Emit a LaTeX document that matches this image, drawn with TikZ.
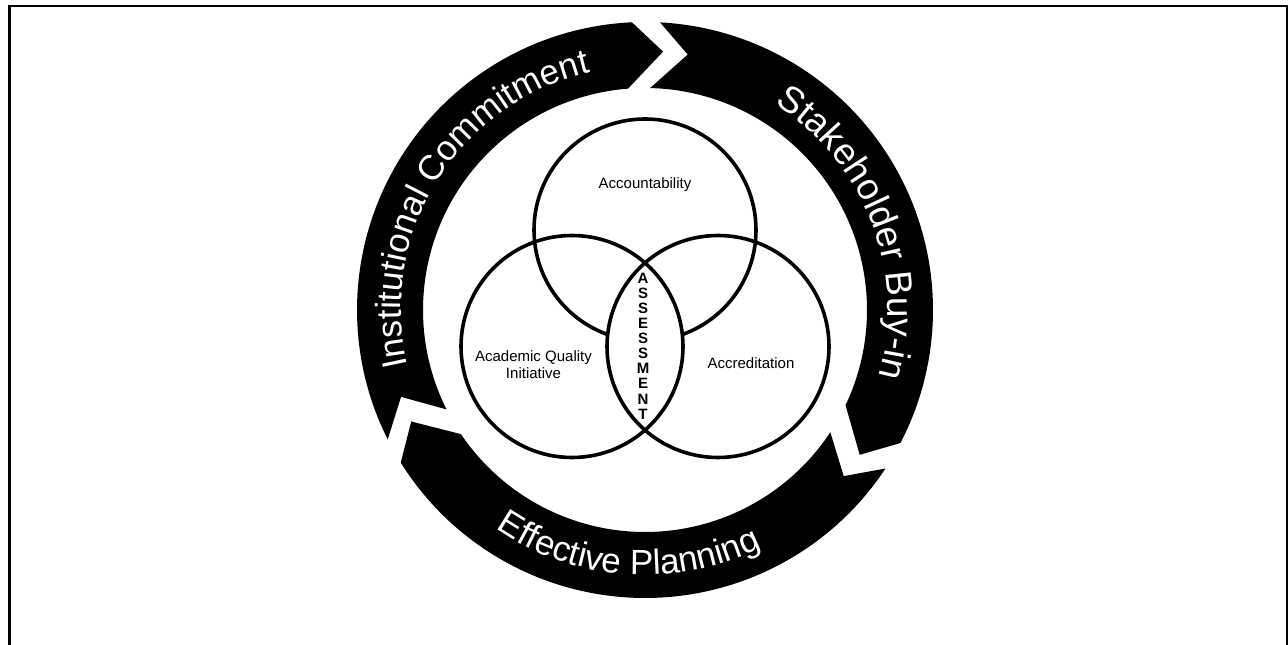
\documentclass[tikz,border=0pt]{standalone}
\usepackage{fontspec}
\setmainfont{Liberation Sans}
\usetikzlibrary{decorations.text}
\newcommand\ringfont{\fontsize{35}{40}\selectfont}
\newcommand\ringfontb{\fontsize{37}{40}\selectfont}
\begin{document}
\begin{tikzpicture}[x=1pt,y=1pt,
  vennline/.style={line width=3.6pt},
  vennlabel/.style={font=\fontsize{15}{17}\selectfont, align=center, inner sep=0pt},
  ringtext/.style={decorate, decoration={text along path, text={|\ringfont|#1}, text align=center, text color=white}},
  ringtextb/.style={decorate, decoration={text along path, text={|\ringfontb|#1}, text align=center, text color=white}}]
\useasboundingbox (0,0) rectangle (1288,645);
\draw[line width=2.4pt] (9.5,-20) -- (9.5,639.2) -- (1287,639.2) -- (1287,-20);
\begin{scope}[shift={(645,335)}]
  \def\Ro{288}\def\Ri{222}\def\Rm{259}
  % Institutional Commitment segment
  \fill (206.7:\Ro) arc[start angle=206.7,end angle=92.6,radius=\Ro] -- (86:\Rm) -- (94.4:\Ri)
        arc[start angle=94.4,end angle=206.6,radius=\Ri] -- (199.6:\Rm) -- cycle;
  % Stakeholder Buy-in segment
  \fill (87:\Ro) arc[start angle=87,end angle=-27.5,radius=\Ro] -- (-34:\Rm) -- (-25.4:\Ri)
        arc[start angle=-25.4,end angle=88.7,radius=\Ri] -- (80.5:\Rm) -- cycle;
  % Effective Planning segment
  \fill (-33.4:\Ro) arc[start angle=-33.4,end angle=-148,radius=\Ro] -- (-154.5:\Rm) -- (-146:\Ri)
        arc[start angle=-146,end angle=-33.4,radius=\Ri] -- (-39.9:\Rm) -- cycle;
  % ring texts
  \path[ringtext={Institutional Commitment}] (218:244) arc[start angle=218,end angle=78,radius=244];
  \path[ringtextb={Stakeholder Buy-in}] (91:243) arc[start angle=91,end angle=-49,radius=243];
  \path[ringtext={Effective Planning}] (195.9:265) arc[start angle=195.9,end angle=335.9,radius=265];
\end{scope}
% Venn diagram
\coordinate (T) at (645,415);
\coordinate (L) at (572,298.5);
\coordinate (R) at (718,298.5);
\draw[vennline] (T) circle[radius=111];
\begin{scope}
  \clip (L) circle[radius=111];
  \fill[white] (R) circle[radius=111];
\end{scope}
\draw[vennline] (L) circle[radius=111];
\draw[vennline] (R) circle[radius=111];
\node[vennlabel] (acc) at (645,460) {Accountability};
\node[vennlabel] (aqi) at (533.5,280.5) {Academic Quality\\Initiative};
\node[vennlabel] (accr) at (751,282) {Accreditation};
\node[align=center, inner sep=0pt, font=\bfseries\fontsize{15}{15.1}\selectfont] (ass) at (643,299)
  {A\\S\\S\\E\\S\\S\\M\\E\\N\\T};
\end{tikzpicture}
\end{document}
